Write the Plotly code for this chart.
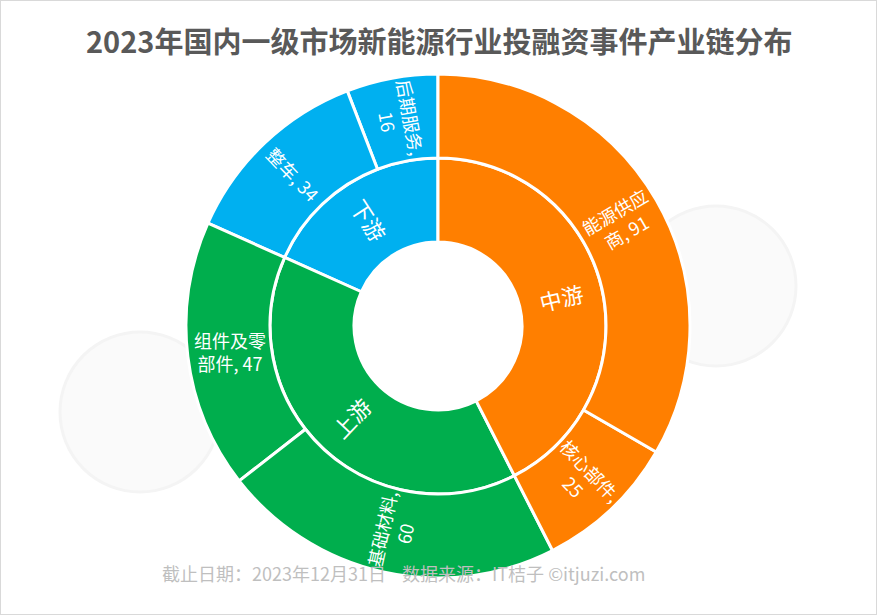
import math
import plotly.graph_objects as go

# ---- data ----
segments = ["中游", "上游", "下游"]            # clockwise from 12 o'clock
sub_names = {
    "中游": ["能源供应商", "核心部件"],
    "上游": ["基础材料", "组件及零部件"],
    "下游": ["整车", "后期服务"],
}
sub_values = {
    "中游": [91, 25],
    "上游": [60, 47],
    "下游": [34, 16],
}
sub_texts = {
    "中游": ["能源供应<br>商, 91", "核心部件,<br>25"],
    "上游": ["基础材料,<br>60", "组件及零<br>部件, 47"],
    "下游": ["整车, 34", "后期服务,<br>16"],
}

# ---- styles ----
colors = {"中游": "#FF7F00", "上游": "#00AE4D", "下游": "#00B0F0"}
W, H = 877, 615
cx, cy, R = 438, 326, 252
FONT = "Noto Sans CJK SC"

# plotly sunburst runs counterclockwise from the rotation start -> feed reversed order
ids, labels, parents, values, cols = ["root"], [""], [""], [0], ["#FFFFFF"]
for s in reversed(segments):
    ids.append(s); labels.append(s); parents.append("root")
    values.append(sum(sub_values[s])); cols.append(colors[s])
for s in reversed(segments):
    for name, v in reversed(list(zip(sub_names[s], sub_values[s]))):
        ids.append(s + "-" + name); labels.append(name); parents.append(s)
        values.append(v); cols.append(colors[s])
total = sum(sum(sub_values[s]) for s in segments)
values[0] = total

fig = go.Figure(go.Sunburst(
    ids=ids, labels=labels, parents=parents, values=values,
    branchvalues="total", sort=False, rotation=90,
    textinfo="none",
    leaf=dict(opacity=1),
    marker=dict(colors=cols, line=dict(color="#FFFFFF", width=3)),
    hoverinfo="skip",
    domain=dict(x=[(cx - R) / W, (cx + R) / W], y=[(H - cy - R) / H, (H - cy + R) / H]),
))

# ---- labels placed at the angular middle of each sector (radial orientation) ----
annotations = []


def add_label(text, start, val, radius, size):
    theta = (start + val / 2) / total * 2 * math.pi
    x = cx + radius * math.sin(theta)
    y = cy - radius * math.cos(theta)
    ang = math.degrees(theta) - 90
    while ang > 90:
        ang -= 180
    while ang <= -90:
        ang += 180
    if abs(ang) < 10:
        ang = 0
    annotations.append(dict(text=text, x=x / W, y=1 - y / H, xref="paper", yref="paper",
                            xanchor="center", yanchor="middle", showarrow=False, textangle=ang,
                            font=dict(size=size, color="#FFFFFF", family=FONT)))


r_in = R / 3
acc = 0
for s in segments:
    sv = sum(sub_values[s])
    add_label(s, acc, sv, 1.5 * r_in, 22)
    sacc = acc
    for t, v in zip(sub_texts[s], sub_values[s]):
        add_label(t, sacc, v, 2.5 * r_in, 18)
        sacc += v
    acc += sv

annotations.append(dict(text="<b>2023年国内一级市场新能源行业投融资事件产业链分布</b>", x=439 / W, y=1 - 40 / H,
                        xref="paper", yref="paper", xanchor="center", yanchor="middle", showarrow=False,
                        font=dict(size=29, color="#595959", family=FONT)))
annotations.append(dict(text="截止日期：2023年12月31日    数据来源：IT桔子 ©itjuzi.com", x=403 / W, y=1 - 573 / H,
                        xref="paper", yref="paper", xanchor="center", yanchor="middle", showarrow=False,
                        font=dict(size=18, color="#BFBFBF", family=FONT)))

shapes = [dict(type="rect", xref="paper", yref="paper", x0=0, y0=0, x1=1, y1=1,
               line=dict(color="#D9D9D9", width=2))]
# faint watermark logos
for (lx, ly) in [(140, 412), (716, 286)]:
    shapes.append(dict(type="circle", xref="paper", yref="paper", layer="below",
                       x0=(lx - 80) / W, x1=(lx + 80) / W, y0=1 - (ly + 80) / H, y1=1 - (ly - 80) / H,
                       line=dict(color="#F4F4F4", width=3), fillcolor="#FAFAFA"))

fig.update_layout(
    width=W, height=H,
    margin=dict(l=0, r=0, t=0, b=0),
    paper_bgcolor="#FFFFFF",
    font=dict(family=FONT),
    annotations=annotations,
    shapes=shapes,
)

fig.write_html("out.html", config={"displayModeBar": False},
               post_script="document.body.style.margin='0';")
